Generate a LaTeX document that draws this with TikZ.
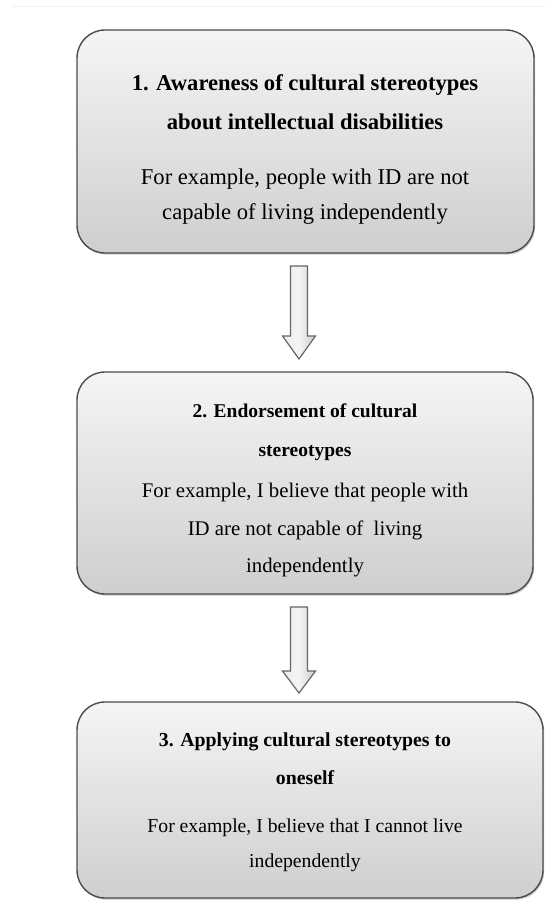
\documentclass[tikz,border=0pt]{standalone}
\usepackage{fontspec}
\setmainfont{Liberation Serif}
\usetikzlibrary{shadows}
\begin{document}
\begin{tikzpicture}[x=1pt,y=-1pt,
  stagebox/.style={draw=black!70, line width=1.4pt, rounded corners=28pt,
    top color=black!4, bottom color=black!19, inner sep=0pt,
    drop shadow={shadow xshift=1.2pt, shadow yshift=-1.6pt, opacity=0.35, fill=black!60}},
  ttlA/.style={font={\fontsize{22.6}{30}\selectfont\bfseries}, align=center, inner sep=0pt},
  txtA/.style={font={\fontsize{22.6}{30}\selectfont}, align=center, inner sep=0pt},
  ttlB/.style={font={\fontsize{19.5}{28}\selectfont\bfseries}, align=center, inner sep=0pt},
  txtB/.style={font={\fontsize{20.8}{28}\selectfont}, align=center, inner sep=0pt},
  ttlC/.style={font={\fontsize{19.8}{28}\selectfont\bfseries}, align=center, inner sep=0pt},
  txtC/.style={font={\fontsize{19.7}{28}\selectfont}, align=center, inner sep=0pt},
  blockarrow/.style={draw=black!60, line width=1.2pt, line join=miter,
    left color=black!8, right color=black!20, middle color=black!4}
]
\useasboundingbox (0,0) rectangle (546,903);
\draw[black!6, line width=0.8pt] (12,6) -- (546,6);

% boxes
\node[stagebox, minimum width=457pt, minimum height=223pt] (b1) at (305.5,141.5) {};
\node[stagebox, minimum width=456pt, minimum height=222pt] (b2) at (305,483) {};
\node[stagebox, minimum width=466pt, minimum height=196pt] (b3) at (310,800) {};

% texts box 1
\node[ttlA] (t1a) at (305,85) {1. Awareness of cultural stereotypes};
\node[ttlA] (t1b) at (305,122) {about intellectual disabilities};
\node[txtA] (t1c) at (305,179) {For example, people with ID are not};
\node[txtA] (t1d) at (305,214) {capable of living independently};

% texts box 2
\node[ttlB] (t2a) at (305,411) {2. Endorsement of cultural};
\node[ttlB] (t2b) at (305,453) {stereotypes};
\node[txtB] (t2c) at (305,492) {For example, I believe that people with};
\node[txtB] (t2d) at (305,530) {ID are not capable of\ \ living};
\node[txtB] (t2e) at (305,568) {independently};

% texts box 3
\node[ttlC] (t3a) at (305,742) {3. Applying cultural stereotypes to};
\node[ttlC] (t3b) at (305,778) {oneself};
\node[txtC] (t3c) at (305,828) {For example, I believe that I cannot live};
\node[txtC] (t3d) at (305,863) {independently};

% block arrows
\coordinate (a1) at (299,266);
\draw[blockarrow] (a1) ++(-8.5,0) -- ++(17,0) -- ++(0,70) -- ++(8,0)
  -- (299,359) -- (282.5,336) -- ++(8,0) -- cycle;
\coordinate (a2) at (299,607);
\draw[blockarrow] (a2) ++(-8.5,0) -- ++(17,0) -- ++(0,64) -- ++(8,0)
  -- (299,693) -- (282.5,671) -- ++(8,0) -- cycle;
\end{tikzpicture}
\end{document}
